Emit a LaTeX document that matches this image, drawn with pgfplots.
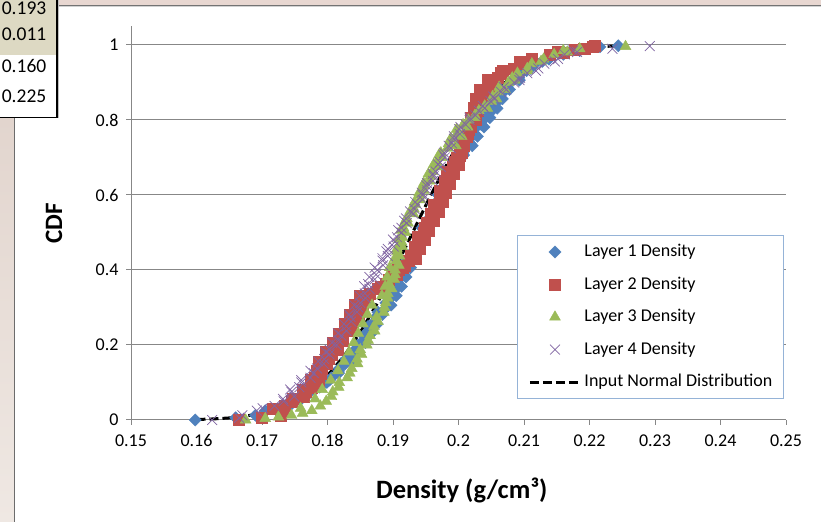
\documentclass[border=0pt]{standalone}
\usepackage{fontspec}
\setmainfont{Carlito}
\usepackage{pgfplots}
\pgfplotsset{compat=1.18}
\definecolor{L1}{HTML}{4F81BD}
\definecolor{L2}{HTML}{C0504D}
\definecolor{L3}{HTML}{9BBB59}
\definecolor{L4}{HTML}{8064A2}
\definecolor{gridc}{HTML}{878787}
\definecolor{legc}{HTML}{95B3D7}
\definecolor{bandc}{HTML}{E8D7D1}
\definecolor{tanc}{HTML}{DDD9C3}
\definecolor{texa}{HTML}{E2D5CE}
\definecolor{texb}{HTML}{EFE8E3}
\begin{document}
\begin{tikzpicture}
\useasboundingbox (0,0) rectangle (821bp,522bp);
\begin{scope}[x=1bp,y=1bp]
\clip (0,0) rectangle (821,522);
\fill[white] (0,0) rectangle (821,522);
\fill[bandc] (57,522) rectangle (821,516.5);
\draw[line width=1bp, color=gray!90!black] (57,516) -- (821,516);
\draw[line width=1bp, color=gray!35] (57,515) -- (821,515);
\shade[top color=texa, bottom color=texb] (0,0) rectangle (14,405);
\draw[line width=1.2bp, color=gray!85!black] (14.5,0) -- (14.5,405);
\fill[tanc] (0,522) rectangle (57,467);
\fill[white] (0,467) rectangle (57,405);
\draw[line width=1bp, color=gray!50] (58.8,522) -- (58.8,403.5);
\draw[line width=1.3bp] (57,522) -- (57,404.5) -- (0,404.5);
\begin{scope}[every node/.style={anchor=mid east, inner sep=0pt, font=\fontsize{19.5bp}{23bp}\selectfont}]
\node at (46.5,509.5) {0.193};
\node at (46.5,484) {0.011};
\node at (46.5,452) {0.160};
\node at (46.5,422) {0.225};
\end{scope}
\end{scope}
\begin{axis}[
 at={(131bp,102bp)}, anchor=south west,
 scale only axis, width=655bp, height=393.75bp,
 xmin=0.15, xmax=0.25, ymin=0, ymax=1.05,
 axis lines=left, axis line style={-, draw=gridc, line width=1bp},
 xtick={0.15,0.16,0.17,0.18,0.19,0.2,0.21,0.22,0.23,0.24,0.25},
 ytick={0,0.2,0.4,0.6,0.8,1},
 scaled x ticks=false, scaled y ticks=false,
 tick align=outside, major tick length=5bp,
 tick style={draw=gridc, line width=1bp},
 ymajorgrids, grid style={draw=gridc, line width=1bp},
 /pgf/number format/assume math mode=true,
 /pgf/number format/fixed,
 tick label style={font=\fontsize{18bp}{21bp}\selectfont, text=black},
 xticklabel style={yshift=-6bp},
 yticklabel style={xshift=-4bp},
 xlabel={Density (g/cm³)}, ylabel={CDF},
 xlabel style={font=\bfseries\fontsize{26.5bp}{31bp}\selectfont, at={(axis description cs:0.505,-0.1778)}, anchor=center},
 ylabel style={font=\bfseries\fontsize{25bp}{30bp}\selectfont, at={(axis description cs:-0.1176,0.5)}, anchor=center},
 clip=false,
 legend cell align=left,
 legend style={at={(axis description cs:0.5893,0.4698)}, anchor=north west,
   draw=legc, line width=1bp, fill=white,
   font=\fontsize{18bp}{21bp}\selectfont,
   inner xsep=11bp, inner ysep=8bp, row sep=15.5bp, column sep=3bp,
   nodes={inner sep=0pt, text height=13bp, text depth=4bp}},
 legend image code/.code={\draw[mark repeat=2,mark phase=2,#1] plot coordinates {(0bp,0bp) (25bp,0bp) (50bp,0bp)};},
]
\addplot[only marks, mark=square*, mark size=4.3pt, color=L1, mark options={rotate=45, fill=L1, draw=L1, line width=0.4pt}] coordinates {
(0.1598,0) (0.1660,0.006) (0.1690,0.0125) (0.1705,0.025) (0.1742,0.0375) (0.1752,0.05)
(0.1767,0.0625) (0.1773,0.075) (0.1788,0.0875) (0.1799,0.1) (0.1806,0.1125) (0.1817,0.125)
(0.1818,0.1375) (0.1827,0.15) (0.1828,0.1625) (0.1839,0.175) (0.1842,0.1875) (0.1846,0.2)
(0.1855,0.2125) (0.1855,0.225) (0.1862,0.2375) (0.1862,0.25) (0.1872,0.2625) (0.1874,0.275)
(0.1877,0.2875) (0.1890,0.3) (0.1889,0.3125) (0.1896,0.325) (0.1895,0.3375) (0.1905,0.35)
(0.1906,0.3625) (0.1909,0.375) (0.1917,0.3875) (0.1915,0.4) (0.1922,0.4125) (0.1920,0.425)
(0.1930,0.4375) (0.1931,0.45) (0.1934,0.4625) (0.1941,0.475) (0.1940,0.4875) (0.1946,0.5)
(0.1944,0.5125) (0.1954,0.525) (0.1955,0.5375) (0.1958,0.55) (0.1965,0.5625) (0.1964,0.575)
(0.1970,0.5875) (0.1969,0.6) (0.1978,0.6125) (0.1980,0.625) (0.1982,0.6375) (0.1990,0.65)
(0.1989,0.6625) (0.1996,0.675) (0.1995,0.6875) (0.2005,0.7) (0.2007,0.7125) (0.2010,0.725)
(0.2018,0.7375) (0.2017,0.75) (0.2025,0.7625) (0.2024,0.775) (0.2035,0.7875) (0.2038,0.8)
(0.2042,0.8125) (0.2051,0.825) (0.2051,0.8375) (0.2060,0.85) (0.2056,0.8625) (0.2069,0.875)
(0.2073,0.8875) (0.2080,0.9) (0.2092,0.9125) (0.2096,0.925) (0.2110,0.9375) (0.2117,0.95)
(0.2138,0.9625) (0.2160,0.975) (0.2185,0.985) (0.2216,0.995) (0.2244,0.998)
(0.1729,0.03125) (0.1760,0.05625) (0.1781,0.08125) (0.1803,0.10625) (0.1817,0.13125)
(0.1837,0.15625) (0.1848,0.18125) (0.1858,0.20625) (0.1867,0.23125) (0.1876,0.25625)
(0.1884,0.28125) (0.1897,0.30625) (0.1905,0.33125) (0.1913,0.35625) (0.1920,0.38125)
(0.1927,0.40625) (0.1929,0.43125) (0.1936,0.45625) (0.1943,0.48125) (0.1950,0.50625)
(0.1957,0.53125) (0.1964,0.55625) (0.1971,0.58125) (0.1978,0.60625) (0.1985,0.63125)
(0.1992,0.65625) (0.2000,0.68125) (0.2008,0.70625) (0.2021,0.73125) (0.2029,0.75625)
(0.2039,0.78125) (0.2048,0.80625) (0.2059,0.83125) (0.2067,0.85625) (0.2078,0.88125)
(0.2093,0.90625) (0.2104,0.93125) (0.2128,0.95625) (0.2161,0.98125)
};
\addlegendentry{Layer 1 Density}
\addplot[only marks, mark=square*, mark size=5.6pt, color=L2, mark options={fill=L2, draw=L2, line width=0.4pt}] coordinates {
(0.1665,0) (0.1700,0.006) (0.1728,0.0125) (0.1732,0.025) (0.1735,0.0375) (0.1745,0.05)
(0.1763,0.0625) (0.1767,0.075) (0.1775,0.0875) (0.1787,0.1) (0.1780,0.1125) (0.1790,0.125)
(0.1791,0.1375) (0.1798,0.15) (0.1802,0.1625) (0.1806,0.175) (0.1815,0.1875) (0.1815,0.2)
(0.1823,0.2125) (0.1823,0.225) (0.1833,0.2375) (0.1836,0.25) (0.1839,0.2625) (0.1847,0.275)
(0.1846,0.2875) (0.1853,0.3) (0.1852,0.3125) (0.1862,0.325) (0.1864,0.3375) (0.1877,0.35)
(0.1889,0.3625) (0.1893,0.375) (0.1905,0.3875) (0.1908,0.4) (0.1918,0.4125) (0.1924,0.425)
(0.1927,0.4375) (0.1934,0.45) (0.1933,0.4625) (0.1939,0.475) (0.1938,0.4875) (0.1947,0.5)
(0.1948,0.5125) (0.1951,0.525) (0.1958,0.5375) (0.1957,0.55) (0.1963,0.5625) (0.1962,0.575)
(0.1971,0.5875) (0.1973,0.6) (0.1972,0.6125) (0.1980,0.625) (0.1979,0.6375) (0.1985,0.65)
(0.1982,0.6625) (0.1992,0.675) (0.1994,0.6875) (0.1997,0.7) (0.2004,0.7125) (0.2002,0.725)
(0.2007,0.7375) (0.2005,0.75) (0.2014,0.7625) (0.2015,0.775) (0.2018,0.7875) (0.2026,0.8)
(0.2023,0.8125) (0.2029,0.825) (0.2026,0.8375) (0.2036,0.85) (0.2038,0.8625) (0.2041,0.875)
(0.2048,0.8875) (0.2049,0.9) (0.2060,0.9125) (0.2064,0.925) (0.2084,0.9375) (0.2096,0.95)
(0.2112,0.9625) (0.2139,0.975) (0.2160,0.98) (0.2178,0.9875) (0.2192,0.99) (0.2205,0.995)
(0.2208,0.998)
(0.1716,0.03125) (0.1747,0.05625) (0.1763,0.08125) (0.1775,0.10625) (0.1784,0.13125)
(0.1787,0.15625) (0.1798,0.18125) (0.1808,0.20625) (0.1817,0.23125) (0.1826,0.25625)
(0.1834,0.28125) (0.1842,0.30625) (0.1850,0.33125) (0.1882,0.35625) (0.1899,0.38125)
(0.1914,0.40625) (0.1934,0.43125) (0.1941,0.45625) (0.1948,0.48125) (0.1955,0.50625)
(0.1962,0.53125) (0.1969,0.55625) (0.1976,0.58125) (0.1981,0.60625) (0.1987,0.63125)
(0.1993,0.65625) (0.2000,0.68125) (0.2002,0.70625) (0.2008,0.73125) (0.2013,0.75625)
(0.2019,0.78125) (0.2018,0.80625) (0.2024,0.83125) (0.2026,0.85625) (0.2033,0.88125)
(0.2045,0.90625) (0.2067,0.93125) (0.2094,0.95625) (0.2151,0.98125)
};
\addlegendentry{Layer 2 Density}
\addplot[only marks, mark=triangle*, mark size=6.3pt, color=L3, mark options={fill=L3, draw=L3, line width=0.4pt}] coordinates {
(0.1675,0) (0.1705,0.004) (0.1725,0.008) (0.1745,0.0125) (0.1762,0.018) (0.1776,0.025)
(0.1789,0.0375) (0.1798,0.05) (0.1806,0.0625) (0.1808,0.075) (0.1817,0.0875) (0.1818,0.1)
(0.1830,0.1125) (0.1834,0.125) (0.1837,0.1375) (0.1846,0.15) (0.1845,0.1625) (0.1852,0.175)
(0.1850,0.1875) (0.1860,0.2) (0.1862,0.2125) (0.1865,0.225) (0.1872,0.2375) (0.1871,0.25)
(0.1877,0.2625) (0.1875,0.275) (0.1886,0.2875) (0.1887,0.3) (0.1889,0.3125) (0.1892,0.325)
(0.1892,0.3375) (0.1898,0.35) (0.1894,0.3625) (0.1902,0.375) (0.1903,0.3875) (0.1903,0.4)
(0.1909,0.4125) (0.1905,0.425) (0.1910,0.4375) (0.1906,0.45) (0.1914,0.4625) (0.1913,0.475)
(0.1914,0.4875) (0.1919,0.5) (0.1916,0.5125) (0.1923,0.525) (0.1921,0.5375) (0.1931,0.55)
(0.1932,0.5625) (0.1934,0.575) (0.1942,0.5875) (0.1941,0.6) (0.1947,0.6125) (0.1946,0.625)
(0.1956,0.6375) (0.1957,0.65) (0.1960,0.6625) (0.1968,0.675) (0.1967,0.6875) (0.1974,0.7)
(0.1973,0.7125) (0.1983,0.725) (0.1985,0.7375) (0.1988,0.75) (0.1997,0.7625) (0.1997,0.775)
(0.2007,0.7875) (0.2015,0.8) (0.2025,0.8125) (0.2031,0.825) (0.2040,0.8375) (0.2050,0.85)
(0.2052,0.8625) (0.2061,0.875) (0.2062,0.8875) (0.2076,0.9) (0.2082,0.9125) (0.2090,0.925)
(0.2105,0.9375) (0.2112,0.95) (0.2130,0.9625) (0.2146,0.975) (0.2160,0.985) (0.2185,0.99)
(0.2255,0.996)
(0.1759,0.03125) (0.1781,0.05625) (0.1792,0.08125) (0.1805,0.10625) (0.1816,0.13125)
(0.1825,0.15625) (0.1833,0.18125) (0.1840,0.20625) (0.1847,0.23125) (0.1854,0.25625)
(0.1861,0.28125) (0.1868,0.30625) (0.1883,0.33125) (0.1888,0.35625) (0.1891,0.38125)
(0.1895,0.40625) (0.1903,0.43125) (0.1906,0.45625) (0.1909,0.48125) (0.1912,0.50625)
(0.1919,0.53125) (0.1926,0.55625) (0.1933,0.58125) (0.1940,0.60625) (0.1947,0.63125)
(0.1954,0.65625) (0.1962,0.68125) (0.1970,0.70625) (0.1996,0.73125) (0.2005,0.75625)
(0.2014,0.78125) (0.2025,0.80625) (0.2044,0.83125) (0.2058,0.85625) (0.2071,0.88125)
(0.2086,0.90625) (0.2105,0.93125) (0.2126,0.95625) (0.2166,0.98125)
};
\addlegendentry{Layer 3 Density}
\addplot[only marks, mark=x, mark size=7pt, color=L4, mark options={draw=L4, line width=0.7pt}] coordinates {
(0.1624,0) (0.1665,0.006) (0.1670,0.0125) (0.1692,0.025) (0.1719,0.0375) (0.1733,0.05)
(0.1749,0.0625) (0.1745,0.075) (0.1757,0.0875) (0.1760,0.1) (0.1774,0.1125) (0.1779,0.125)
(0.1784,0.1375) (0.1794,0.15) (0.1795,0.1625) (0.1803,0.175) (0.1803,0.1875) (0.1814,0.2)
(0.1817,0.2125) (0.1821,0.225) (0.1829,0.2375) (0.1829,0.25) (0.1836,0.2625) (0.1835,0.275)
(0.1845,0.2875) (0.1847,0.3) (0.1850,0.3125) (0.1858,0.325) (0.1857,0.3375) (0.1864,0.35)
(0.1862,0.3625) (0.1872,0.375) (0.1874,0.3875) (0.1876,0.4) (0.1885,0.4125) (0.1884,0.425)
(0.1892,0.4375) (0.1890,0.45) (0.1901,0.4625) (0.1903,0.475) (0.1906,0.4875) (0.1913,0.5)
(0.1913,0.5125) (0.1921,0.525) (0.1920,0.5375) (0.1931,0.55) (0.1933,0.5625) (0.1937,0.575)
(0.1945,0.5875) (0.1945,0.6) (0.1952,0.6125) (0.1951,0.625) (0.1961,0.6375) (0.1962,0.65)
(0.1965,0.6625) (0.1973,0.675) (0.1972,0.6875) (0.1979,0.7) (0.1978,0.7125) (0.1988,0.725)
(0.1990,0.7375) (0.1993,0.75) (0.2002,0.7625) (0.2001,0.775) (0.2011,0.7875) (0.2017,0.8)
(0.2026,0.8125) (0.2031,0.825) (0.2037,0.8375) (0.2049,0.85) (0.2053,0.8625) (0.2065,0.875)
(0.2069,0.8875) (0.2085,0.9) (0.2094,0.9125) (0.2105,0.925) (0.2122,0.9375) (0.2131,0.95)
(0.2152,0.9625) (0.2162,0.975) (0.2175,0.985) (0.2235,0.99) (0.2292,0.997)
(0.1701,0.03125) (0.1732,0.05625) (0.1743,0.08125) (0.1760,0.10625) (0.1774,0.13125)
(0.1786,0.15625) (0.1797,0.18125) (0.1807,0.20625) (0.1816,0.23125) (0.1825,0.25625)
(0.1833,0.28125) (0.1841,0.30625) (0.1849,0.33125) (0.1856,0.35625) (0.1864,0.38125)
(0.1872,0.40625) (0.1884,0.43125) (0.1892,0.45625) (0.1900,0.48125) (0.1908,0.50625)
(0.1917,0.53125) (0.1926,0.55625) (0.1934,0.58125) (0.1944,0.60625) (0.1952,0.63125)
(0.1961,0.65625) (0.1969,0.68125) (0.1977,0.70625) (0.1985,0.73125) (0.1993,0.75625)
(0.2003,0.78125) (0.2017,0.80625) (0.2040,0.83125) (0.2055,0.85625) (0.2073,0.88125)
(0.2093,0.90625) (0.2118,0.93125) (0.2147,0.95625) (0.2181,0.98125)
};
\addlegendentry{Layer 4 Density}
\addplot[mark=none, color=black, line width=3bp, dash pattern=on 9bp off 4bp] coordinates {
(0.1600,0.00135) (0.1625,0.00278) (0.1650,0.00546) (0.1675,0.01022) (0.1700,0.01827)
(0.1725,0.03119) (0.1750,0.05088) (0.1775,0.07941) (0.1800,0.11864) (0.1825,0.16991)
(0.1850,0.23352) (0.1875,0.30854) (0.1900,0.39253) (0.1925,0.48187) (0.1950,0.57214)
(0.1975,0.65876) (0.2000,0.73773) (0.2025,0.80610) (0.2050,0.86235) (0.2075,0.90627)
(0.2100,0.93888) (0.2125,0.96186) (0.2150,0.97725) (0.2175,0.98703) (0.2200,0.99295)
(0.2225,0.99634) (0.2250,0.99819)
};
\addlegendentry{Input Normal Distribution}
\end{axis}
\end{tikzpicture}
\end{document}
